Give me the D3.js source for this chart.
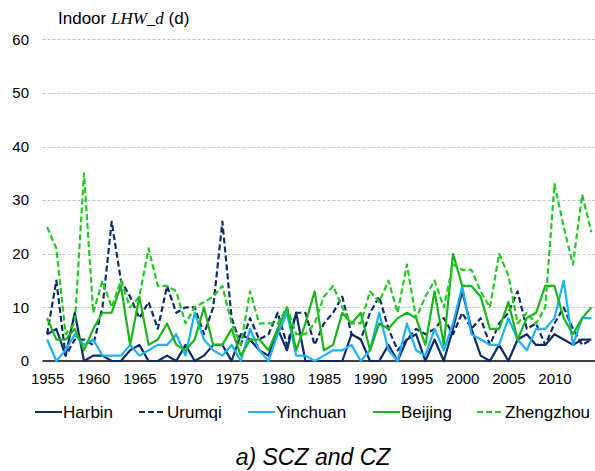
<!DOCTYPE html>
<html>
<head>
<meta charset="utf-8">
<script src="https://cdn.jsdelivr.net/npm/d3@7/dist/d3.min.js"></script>
<style>
  html, body { margin: 0; padding: 0; background: #fff; }
  svg { display: block; }
  text { font-family: "Liberation Sans", Arial, sans-serif; fill: #000; }
</style>
</head>
<body>
<svg id="chart" width="595" height="471"></svg>
<script>
// Years 1955–2014
const years = d3.range(1955, 2015);

// Indoor LHW_d (days) per city
const harbin = [
  5, 6, 1, 9, 0, 1, 1, 0, 0, 2,
  3, 0, 0, 1, 0, 3, 0, 1, 3, 3,
  0, 5, 4, 2, 1, 6, 2, 9, 0, 0,
  0, 0, 0, 5, 4, 0, 0, 3, 0, 4,
  5, 0, 4, 0, 6, 13, 6, 1, 0, 3,
  0, 4, 5, 3, 3, 5, 4, 3, 4, 4
];
const urumqi = [
  5, 15, 1, 4, 4, 3, 10, 26, 15, 12,
  8, 11, 6, 14, 9, 10, 10, 5, 10, 26,
  8, 3, 8, 4, 5, 9, 3, 9, 9, 3,
  7, 9, 12, 5, 4, 9, 12, 6, 2, 4,
  6, 5, 6, 8, 5, 9, 6, 8, 3, 7,
  9, 13, 6, 7, 3, 7, 10, 6, 3, 4
];
const yinchuan = [
  4, 0, 2, 5, 3, 4, 1, 1, 1, 3,
  1, 2, 3, 3, 5, 1, 9, 4, 2, 1,
  3, 0, 6, 2, 0, 5, 9, 1, 1, 0,
  1, 2, 2, 3, 0, 2, 9, 2, 0, 7,
  2, 1, 6, 2, 7, 14, 5, 4, 3, 3,
  8, 4, 2, 6, 6, 8, 15, 3, 8, 8
];
const beijing = [
  8, 4, 4, 6, 2, 6, 9, 9, 14, 3,
  12, 3, 4, 7, 3, 2, 4, 10, 3, 3,
  6, 1, 4, 4, 2, 6, 10, 2, 7, 13,
  2, 3, 9, 7, 9, 2, 7, 6, 8, 9,
  8, 3, 13, 3, 20, 14, 14, 12, 6, 6,
  11, 4, 8, 9, 14, 14, 8, 5, 8, 10
];
const zhengzhou = [
  25, 21, 5, 7, 35, 9, 15, 10, 15, 10,
  12, 21, 14, 14, 13, 7, 10, 11, 12, 14,
  7, 3, 13, 7, 7, 7, 10, 5, 5, 7,
  12, 14, 10, 7, 7, 13, 11, 15, 9, 18,
  8, 12, 15, 10, 18, 17, 17, 13, 10, 20,
  16, 7, 9, 7, 10, 33, 25, 18, 31, 24
];

const seriesNames = ["Harbin", "Urumqi", "Yinchuan", "Beijing", "Zhengzhou"];
const yTicks = [0, 10, 20, 30, 40, 50, 60];
const xTickYears = [1955, 1960, 1965, 1970, 1975, 1980, 1985, 1990, 1995, 2000, 2005, 2010];

const series = [
  { name: seriesNames[0], values: harbin,    color: "#0d2b6b", dash: null },
  { name: seriesNames[1], values: urumqi,    color: "#0d2b6b", dash: "6,3" },
  { name: seriesNames[2], values: yinchuan,  color: "#1cb2f5", dash: null },
  { name: seriesNames[3], values: beijing,   color: "#1bb51b", dash: null },
  { name: seriesNames[4], values: zhengzhou, color: "#22c922", dash: "6,3" }
];

const svg = d3.select("#chart");
const plot = { left: 42.5, right: 596, top: 39.3, bottom: 361 };

const x = d3.scalePoint().domain(years).range([plot.left, plot.right]).padding(0.5);
const y = d3.scaleLinear().domain([0, 60]).range([plot.bottom, plot.top]);

// Horizontal dashed gridlines
svg.append("g")
  .selectAll("line")
  .data(yTicks.filter(d => d > 0))
  .join("line")
  .attr("x1", plot.left).attr("x2", 595)
  .attr("y1", d => Math.round(y(d)) + 0.5).attr("y2", d => Math.round(y(d)) + 0.5)
  .attr("stroke", "#c4c4c4")
  .attr("stroke-width", 1)
  .attr("stroke-dasharray", "3,2");

// Y axis labels (no axis line)
const yAxis = d3.axisLeft(y).tickValues(yTicks).tickSize(0).tickPadding(0);
const gy = svg.append("g").attr("transform", `translate(29,0)`).call(yAxis);
gy.select(".domain").remove();
gy.selectAll("text").style("font-size", "15px").attr("font-family", null);

// X axis: baseline and labels every five years
const xAxis = d3.axisBottom(x).tickValues(xTickYears).tickSize(0).tickPadding(12);
const gx = svg.append("g").attr("transform", `translate(0,${plot.bottom})`).call(xAxis);
gx.select(".domain").remove();
gx.selectAll("text").style("font-size", "15px").attr("font-family", null);
svg.append("line")
  .attr("x1", plot.left).attr("x2", 595)
  .attr("y1", plot.bottom).attr("y2", plot.bottom)
  .attr("stroke", "#000").attr("stroke-width", 1.5);

// Series lines
const line = d3.line()
  .x((d, i) => x(years[i]))
  .y(d => y(d));

svg.append("g")
  .selectAll("path")
  .data(series)
  .join("path")
  .attr("d", s => line(s.values))
  .attr("fill", "none")
  .attr("stroke", s => s.color)
  .attr("stroke-width", 2.2)
  .attr("stroke-linejoin", "round")
  .attr("stroke-dasharray", s => s.dash);

// Axis title
const title = svg.append("text")
  .attr("x", 58).attr("y", 24)
  .style("font-size", "17px");
title.append("tspan").text("Indoor ");
title.append("tspan")
  .attr("font-family", "'Liberation Serif', 'Times New Roman', serif")
  .attr("font-style", "italic")
  .text("LHW_d");
title.append("tspan").text(" (d)");

// Legend
const legendX = [35, 139, 248, 373, 477];
const legend = svg.append("g").attr("transform", "translate(0,412)");
const items = legend.selectAll("g")
  .data(series)
  .join("g")
  .attr("transform", (d, i) => `translate(${legendX[i]},0)`);
items.append("line")
  .attr("x1", 0).attr("x2", 27)
  .attr("y1", 0).attr("y2", 0)
  .attr("stroke", d => d.color)
  .attr("stroke-width", 2)
  .attr("stroke-dasharray", d => d.dash);
items.append("text")
  .attr("x", 28).attr("y", 6)
  .style("font-size", "17px")
  .text(d => d.name);

// Panel caption
svg.append("text")
  .attr("x", 313).attr("y", 465)
  .attr("text-anchor", "middle")
  .style("font-size", "23px")
  .style("font-style", "italic")
  .text("a) SCZ and CZ");
</script>
</body>
</html>
